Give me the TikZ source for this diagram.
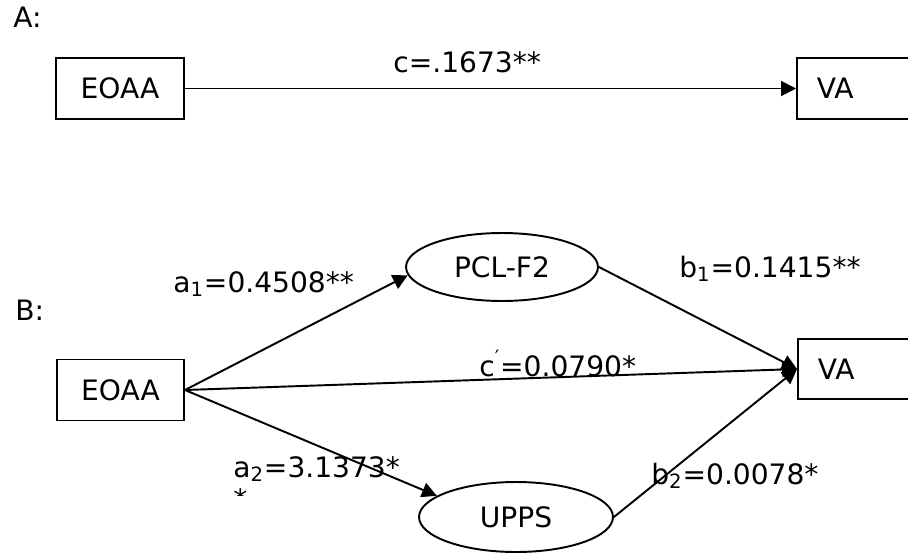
\documentclass[tikz,border=0pt]{standalone}
\usepackage{fontspec}
\setmainfont{DejaVu Sans}
\usetikzlibrary{positioning, shapes.geometric, arrows.meta}

\begin{document}
\begin{tikzpicture}[x=0.02cm, y=-0.02cm, font=\fontsize{16}{19}\selectfont]
  \tikzstyle{var}=[draw, line width=1.1pt, minimum height=1.22cm, inner sep=0]
  \tikzstyle{outcome}=[var, anchor=west, text width=2cm, inner xsep=0.4cm, align=left]
  \tikzstyle{med}=[ellipse, draw, line width=1.1pt, inner sep=0]
  \tikzstyle{effect}=[-{Triangle[length=8.5pt, width=8.5pt]}, line width=1.1pt]
  \tikzstyle{lbl}=[inner sep=0, anchor=base west]

  \useasboundingbox (0,0) rectangle (908,554);

  % A: total effect
  \node [lbl] (lab-A) at (13, 28) {A:};
  \node [var, minimum width=2.56cm] (X-A) at (120, 88.5) {EOAA};
  \node [outcome] (Y-A) at (796, 88.5) {VA};
  \draw [effect] (X-A) -- (Y-A);
  \node [lbl] (c) at (393, 72) {c=.1673**};

  % B: mediation
  \node [lbl] (lab-B) at (15, 320) {B:};
  \node [var, minimum width=2.54cm] (X-B) at (120.5, 390) {EOAA};
  \node [med, minimum width=3.84cm, minimum height=1.36cm] (M-1) at (502, 267) {PCL-F2};
  \node [med, minimum width=3.88cm, minimum height=1.4cm] (M-2) at (516, 517) {UPPS};
  \node [outcome, minimum height=1.2cm] (Y-B) at (797, 369) {VA};

  \draw [effect] (X-B.east) -- (M-1.185);
  \draw [effect] (X-B.east) -- (Y-B.west);
  \draw [effect] (X-B.east) -- (M-2.165);
  \draw [effect] (M-1.east) -- (Y-B.west);
  \draw [effect] (M-2.east) -- (Y-B.west);

  \node [lbl] (a-1) at (173, 292) {a\textsubscript{1}=0.4508**};
  \node [lbl] (b-1) at (679, 277) {b\textsubscript{1}=0.1415**};
  \node [lbl] (c-p) at (479, 376) {c\textsuperscript{′}=0.0790*};
  \node [lbl] (a-2) at (233, 477) {a\textsubscript{2}=3.1373*};
  \node [lbl] (b-2) at (651, 484) {b\textsubscript{2}=0.0078*};
  \begin{scope}
    \clip (225, 486) rectangle (260, 495);
    \node [lbl] (a-2-cut) at (233, 509) {*};
  \end{scope}
\end{tikzpicture}
\end{document}
